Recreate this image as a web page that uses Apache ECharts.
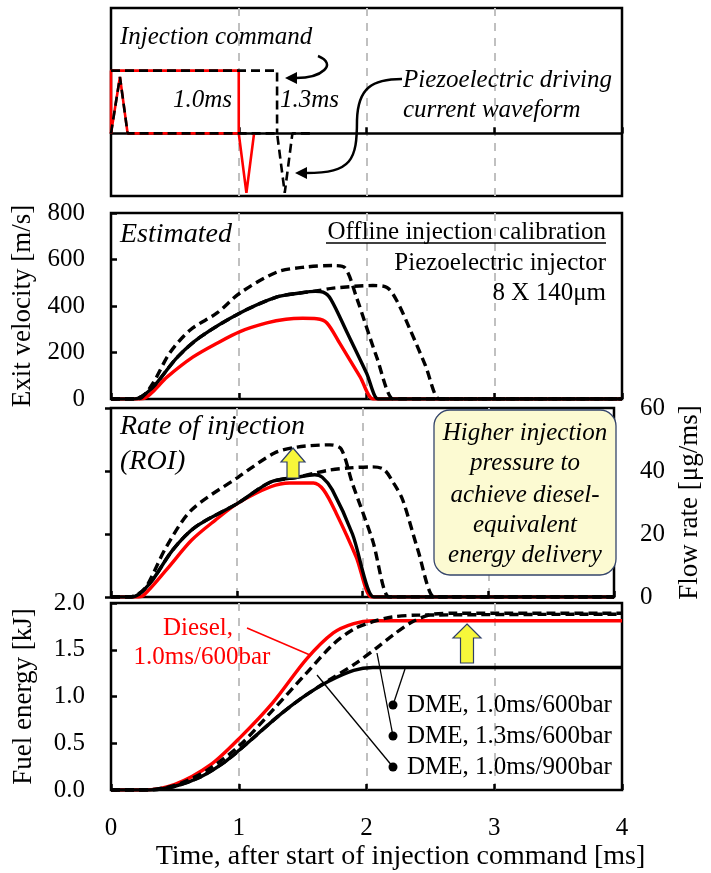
<!DOCTYPE html>
<html>
<head>
<meta charset="UTF-8" />
<title>Injection</title>
<style>
  html, body { margin: 0; padding: 0; background: #fff; }
  #chart { width: 711px; height: 873px; }
</style>
</head>
<body>
<div id="chart"></div>
<script src="https://cdn.jsdelivr.net/npm/echarts@6/dist/echarts.min.js"></script>
<script>
// ---- data: [time ms, value] ----
// panel 1: injection command / piezo current (arbitrary units)
const cmd10 = [[0, 0], [0, 1], [1.0, 1], [1.0, 0]];
const cmd13 = [[0, 1], [1.3, 1], [1.3, 0]];
const cur10 = [[0, 0], [0.07, 0.9], [0.13, 0], [1.0, 0], [1.06, -0.95], [1.12, 0]];
const cur13 = [[0, 0], [0.07, 0.9], [0.13, 0], [1.3, 0], [1.36, -0.95], [1.42, 0], [1.56, 0]];

// panel 2: exit velocity [m/s]
const velDiesel = [[0, 0], [0.2, 0], [0.26, 3], [0.44, 95], [0.64, 180], [0.83, 240], [1.01, 290], [1.22, 327], [1.37, 343], [1.5, 347], [1.61, 345], [1.69, 327], [1.79, 240], [1.95, 95], [2.05, 0], [2.1, 0], [4, 0]];
const velDme10_600 = [[0, 0], [0.15, 0], [0.21, 3], [0.33, 52], [0.52, 180], [0.7, 267], [1.01, 370], [1.3, 439], [1.48, 456], [1.6, 463], [1.66, 460], [1.72, 430], [1.85, 284], [2.0, 112], [2.09, 0], [2.14, 0], [4, 0]];
const velDme13_600 = [[0, 0], [0.15, 0], [0.21, 3], [0.33, 52], [0.52, 180], [0.7, 267], [1.01, 370], [1.3, 439], [1.48, 456], [1.62, 466], [1.74, 477], [2.05, 488], [2.16, 480], [2.24, 420], [2.34, 300], [2.46, 146], [2.57, 0], [2.62, 0], [4, 0]];
const velDme10_900 = [[0, 0], [0.18, 0], [0.24, 6], [0.33, 69], [0.46, 198], [0.62, 297], [0.83, 370], [1.01, 456], [1.3, 546], [1.53, 568], [1.74, 574], [1.83, 565], [1.92, 440], [2.08, 180], [2.21, 0], [2.26, 0], [4, 0]];

// panel 3: rate of injection [ug/ms]
const roiDiesel = [[0, 0], [0.2, 0], [0.26, 0.6], [0.44, 8.6], [0.64, 18], [0.83, 24.4], [1.01, 29.8], [1.27, 35], [1.42, 36.2], [1.61, 36.2], [1.69, 34], [1.79, 26.7], [1.95, 12.7], [2.07, 0], [2.12, 0], [4, 0]];
const roiDme10_600 = [[0, 0], [0.15, 0], [0.22, 0.8], [0.33, 5.4], [0.49, 14.9], [0.67, 22.2], [1.01, 29.8], [1.27, 36.5], [1.48, 38], [1.62, 38.8], [1.68, 38], [1.76, 34], [1.92, 20], [2.09, 0], [2.14, 0], [4, 0]];
const roiDme13_600 = [[0, 0], [0.15, 0], [0.22, 0.8], [0.33, 5.4], [0.49, 14.9], [0.67, 22.2], [1.01, 29.8], [1.27, 36.5], [1.48, 38], [1.64, 39.5], [1.74, 40.3], [1.9, 41], [2.08, 41.3], [2.17, 40.5], [2.25, 36], [2.32, 30.8], [2.44, 15], [2.57, 0], [2.62, 0], [4, 0]];
const roiDme10_900 = [[0, 0], [0.15, 0], [0.21, 0.8], [0.28, 3.2], [0.44, 15.9], [0.64, 27.6], [1.01, 38], [1.3, 45.7], [1.48, 47.6], [1.74, 48.3], [1.83, 47], [1.92, 36], [2.08, 18], [2.21, 0], [2.26, 0], [4, 0]];

// panel 4: fuel energy [kJ]
const enDiesel = [[0, 0], [0.25, 0], [0.5, 0.06], [0.78, 0.27], [1.01, 0.56], [1.27, 0.94], [1.53, 1.4], [1.74, 1.68], [1.9, 1.78], [2.05, 1.81], [4, 1.81]];
const enDme10_600 = [[0, 0], [0.3, 0], [0.5, 0.04], [0.7, 0.14], [0.9, 0.31], [1.1, 0.54], [1.3, 0.78], [1.5, 0.99], [1.7, 1.16], [1.9, 1.28], [2.05, 1.31], [4, 1.31]];
const enDme13_600 = [[0, 0], [0.3, 0], [0.5, 0.04], [0.7, 0.14], [0.9, 0.31], [1.1, 0.54], [1.3, 0.78], [1.5, 0.99], [1.7, 1.17], [1.9, 1.34], [2.08, 1.52], [2.21, 1.66], [2.36, 1.8], [2.52, 1.88], [2.7, 1.89], [4, 1.89]];
const enDme10_900 = [[0, 0], [0.25, 0], [0.5, 0.05], [0.75, 0.21], [1.01, 0.48], [1.27, 0.86], [1.53, 1.25], [1.74, 1.56], [1.9, 1.72], [2.05, 1.8], [2.2, 1.85], [2.4, 1.87], [4, 1.88]];

const legendNames = ["DME, 1.0ms/600bar", "DME, 1.3ms/600bar", "DME, 1.0ms/900bar"];

const FONT = "Liberation Serif";
const RED = "#ff0000";
const DASH = [9, 5];

const chart = echarts.init(document.getElementById("chart"));

const grids = [
    { left: 111, right: 89, top: 8, height: 188 },
    { left: 111, right: 89, top: 213, height: 186 },
    { left: 111, right: 89, top: 408, height: 189 },
    { left: 111, right: 89, top: 603, height: 187 },
].map((g) => Object.assign({ show: true, borderColor: "#000", borderWidth: 2.5, backgroundColor: "transparent" }, g));

const labelStyle = { color: "#000", fontFamily: FONT, fontSize: 25, margin: 26 };
const tickStyle = { show: true, inside: true, length: 6, lineStyle: { color: "#000", width: 2.5 } };
const nameStyle = { color: "#000", fontFamily: FONT, fontSize: 27 };

function xAxis(i) {
    const last = i === 3;
    return {
        type: "value",
        gridIndex: i,
        min: 0,
        max: 4,
        interval: 1,
        axisLine: i === 0 ? { show: true, onZero: true, lineStyle: { color: "#000", width: 2.5 } } : { show: false },
        axisTick: tickStyle,
        axisLabel: Object.assign({ show: last }, labelStyle),
        splitLine: { show: true, showMinLine: false, showMaxLine: false, lineStyle: { color: "#c0c0c0", width: 2, type: [8, 7] } },
        name: last ? "Time, after start of injection command [ms]" : "",
        nameLocation: "middle",
        nameGap: 53,
        nameTextStyle: { color: "#000", fontFamily: FONT, fontSize: 28, padding: [0, 0, 0, 68] },
    };
}

const yAxes = [
    { type: "value", gridIndex: 0, min: -1, max: 2, show: false },
    {
        type: "value", gridIndex: 1, min: 0, max: 800, interval: 200,
        axisLine: { show: false }, axisTick: tickStyle, splitLine: { show: false },
        axisLabel: labelStyle,
        name: "Exit velocity [m/s]", nameLocation: "middle", nameRotate: 90, nameGap: 74, nameTextStyle: nameStyle,
    },
    {
        type: "value", gridIndex: 2, min: 0, max: 60, interval: 20, position: "right",
        axisLine: { show: false }, axisTick: tickStyle, splitLine: { show: false },
        axisLabel: labelStyle,
        name: "Flow rate [\u03bcg/ms]", nameLocation: "middle", nameRotate: 90, nameGap: 62, nameTextStyle: nameStyle,
    },
    {
        type: "value", gridIndex: 3, min: 0, max: 2, interval: 0.5,
        axisLine: { show: false }, axisTick: tickStyle, splitLine: { show: false },
        axisLabel: Object.assign({ formatter: (v) => v.toFixed(1) }, labelStyle),
        name: "Fuel energy [kJ]", nameLocation: "middle", nameRotate: 90, nameGap: 74, nameTextStyle: nameStyle,
    },
];

function line(data, i, color, dashed, width) {
    return {
        type: "line",
        xAxisIndex: i,
        yAxisIndex: i,
        data: data,
        showSymbol: false,
        symbol: "none",
        smooth: i === 0 ? false : 0.3,
        clip: true,
        silent: true,
        lineStyle: { color: color, width: width || 3.4, type: dashed ? DASH : "solid" },
        z: dashed ? 4 : color === RED ? 2 : 3,
    };
}

const series = [
    line(cmd10, 0, RED, false, 2.6),
    line(cur10, 0, RED, false, 2.6),
    line(cmd13, 0, "#000", true, 2.6),
    line(cur13, 0, "#000", true, 2.6),

    line(velDiesel, 1, RED),
    line(velDme10_600, 1, "#000"),
    line(velDme13_600, 1, "#000", true),
    line(velDme10_900, 1, "#000", true),

    line(roiDiesel, 2, RED),
    line(roiDme10_600, 2, "#000"),
    line(roiDme13_600, 2, "#000", true),
    line(roiDme10_900, 2, "#000", true),

    line(enDiesel, 3, RED),
    line(enDme10_600, 3, "#000"),
    line(enDme13_600, 3, "#000", true),
    line(enDme10_900, 3, "#000", true),
];

function txt(text, x, y, opts) {
    opts = opts || {};
    const align = opts.align || "left";
    return {
        type: "text",
        z: 20,
        style: {
            text: text, x: x, y: y,
            font: (opts.italic ? "italic " : "") + (opts.size || 25) + "px '" + FONT + "'",
            fill: opts.color || "#000",
            align: align, textAlign: align,
            verticalAlign: "middle", textVerticalAlign: "middle",
        },
    };
}
function seg(x1, y1, x2, y2, color, w) {
    return { type: "line", z: 20, shape: { x1, y1, x2, y2 }, style: { stroke: color || "#000", lineWidth: w || 1.3 } };
}
function dot(x, y) {
    return { type: "circle", z: 21, shape: { cx: x, cy: y, r: 4.5 }, style: { fill: "#000" } };
}
function upArrow(cx, tip, base, bottom, hw, sw) {
    return {
        type: "polygon", z: 15,
        shape: { points: [[cx, tip], [cx + hw, base], [cx + sw, base], [cx + sw, bottom], [cx - sw, bottom], [cx - sw, base], [cx - hw, base]] },
        style: { fill: "#f7f73a", stroke: "#2f3f66", lineWidth: 1.2 },
    };
}
function curve(x1, y1, c1x, c1y, c2x, c2y, x2, y2) {
    return { type: "bezierCurve", z: 20, shape: { x1, y1, cpx1: c1x, cpy1: c1y, cpx2: c2x, cpy2: c2y, x2, y2 }, style: { stroke: "#000", lineWidth: 2.5, fill: null } };
}
function headLeft(x, y) {
    return { type: "polygon", z: 20, shape: { points: [[x, y], [x + 12, y - 6], [x + 12, y + 6]] }, style: { fill: "#000" } };
}

const graphic = [
    // panel 1
    txt("Injection command", 120, 37, { italic: true }),
    txt("1.0ms", 173, 100, { italic: true }),
    txt("1.3ms", 280, 100, { italic: true }),
    txt("Piezoelectric driving", 403, 80, { italic: true }),
    txt("current waveform", 403, 110, { italic: true }),
    curve(318, 56, 338, 64, 322, 78, 296, 78),
    headLeft(285, 78),
    curve(402, 79, 372, 79, 358, 88, 357, 120),
    curve(357, 120, 357, 160, 352, 173, 306, 173),
    headLeft(295, 173),

    // panel 2
    txt("Estimated", 120, 235, { italic: true, size: 28 }),
    txt("Offline injection calibration", 606, 232, { align: "right" }),
    seg(326, 243, 606, 243, "#000", 1.5),
    txt("Piezoelectric injector", 606, 263, { align: "right" }),
    txt("8 X 140\u03bcm", 606, 293, { align: "right" }),

    // panel 3
    txt("Rate of injection", 120, 427, { italic: true, size: 28 }),
    txt("(ROI)", 120, 462, { italic: true, size: 28 }),
    upArrow(293, 448, 462, 478, 12, 6),
    {
        type: "rect", z: 15,
        shape: { x: 434, y: 410, width: 182, height: 165, r: 16 },
        style: { fill: "#fcfad2", stroke: "#35456b", lineWidth: 1.3 },
    },
    txt("Higher injection", 525, 433, { italic: true, align: "center" }),
    txt("pressure to", 525, 463, { italic: true, align: "center" }),
    txt("achieve diesel-", 525, 495, { italic: true, align: "center" }),
    txt("equivalent", 525, 525, { italic: true, align: "center" }),
    txt("energy delivery", 525, 555, { italic: true, align: "center" }),

    // panel 4
    txt("Diesel,", 198, 628, { color: RED, align: "center" }),
    txt("1.0ms/600bar", 202, 657, { color: RED, align: "center" }),
    seg(247, 628, 310, 655, RED, 1.5),
    upArrow(467, 624, 638, 663, 14, 6.5),
    seg(393, 705, 405, 669),
    seg(393, 736, 377, 653),
    seg(393, 767, 317, 675),
    dot(393, 705),
    dot(393, 736),
    dot(393, 767),
    txt(legendNames[0], 407, 705),
    txt(legendNames[1], 407, 736),
    txt(legendNames[2], 407, 767),
];

chart.setOption({
    animation: false,
    backgroundColor: "#fff",
    grid: grids,
    xAxis: [0, 1, 2, 3].map(xAxis),
    yAxis: yAxes,
    series: series,
    graphic: graphic,
});
</script>
</body>
</html>
